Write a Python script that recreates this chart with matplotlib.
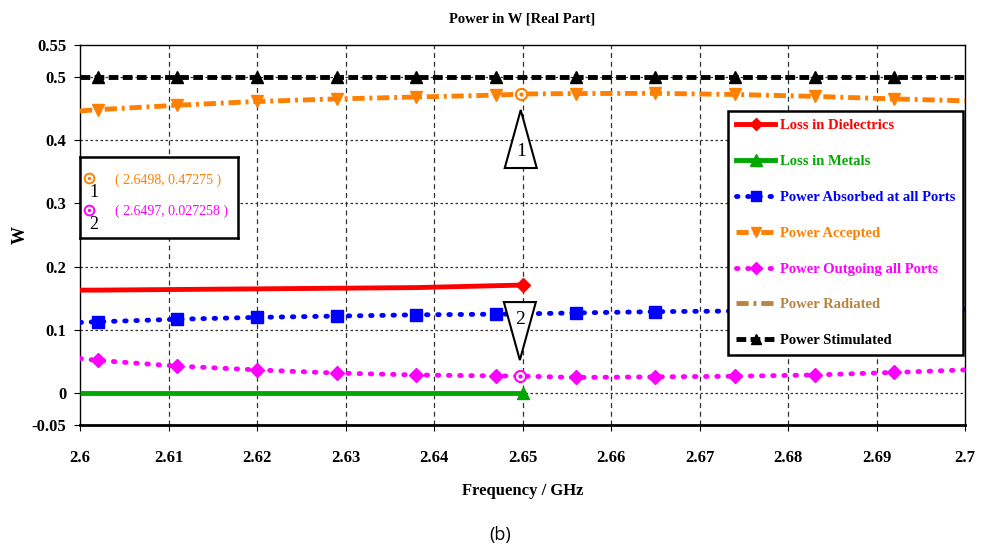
import matplotlib
matplotlib.use("Agg")
import matplotlib.pyplot as plt
import matplotlib.transforms as mtransforms
from matplotlib.patches import Polygon
from matplotlib.lines import Line2D

# Frequency samples (GHz); marker positions are every 0.009 GHz from 2.602
freq = [2.600, 2.602, 2.611, 2.620, 2.629, 2.638, 2.647, 2.650,
        2.656, 2.665, 2.674, 2.683, 2.692, 2.700]
marker_idx = [1, 2, 3, 4, 5, 6, 8, 9, 10, 11, 12]

# Series values (W)
p_stimulated = [0.5] * 14
p_accepted = [0.446, 0.448, 0.455, 0.461, 0.465, 0.468, 0.471, 0.47275,
              0.4735, 0.4738, 0.472, 0.469, 0.465, 0.462]
p_absorbed = [0.112, 0.113, 0.117, 0.120, 0.122, 0.124, 0.125, 0.1255,
              0.127, 0.129, 0.130, 0.131, 0.132, 0.133]
p_outgoing = [0.055, 0.052, 0.043, 0.037, 0.032, 0.029, 0.0275, 0.027258,
              0.025, 0.026, 0.027, 0.029, 0.033, 0.037]
# losses only computed up to 2.65 GHz
loss_diel = [0.163, 0.163, 0.164, 0.165, 0.166, 0.167, 0.170, 0.171]
loss_metal = [0.0, 0.0, 0.0, 0.0, 0.0, 0.0, 0.0, 0.0]

# Marker readouts
mk_labels = ["1", "2"]
mk_x = [2.6498, 2.6497]
mk_y = [0.47275, 0.027258]

xticks = [2.6, 2.61, 2.62, 2.63, 2.64, 2.65, 2.66, 2.67, 2.68, 2.69, 2.7]
yticks = [-0.05, 0, 0.1, 0.2, 0.3, 0.4, 0.5, 0.55]

RED = "#ff0000"
GREEN = "#00a800"
BLUE = "#0000ff"
ORANGE = "#ff7f00"
MAGENTA = "#ff00ff"
BROWN = "#b8843f"
BLACK = "#000000"

DOTTED = (0, (0.3, 2.0))
DASHDOT = (0, (2.5, 1.0, 0.6, 1.0))
DASHED = (0, (2.0, 0.9))

plt.rcParams["font.family"] = ["Liberation Serif", "DejaVu Serif"]
plt.rcParams["font.weight"] = "bold"
plt.rcParams["axes.titleweight"] = "bold"
plt.rcParams["axes.labelweight"] = "bold"

fig = plt.figure(figsize=(9.83, 5.5), dpi=100)
ax = fig.add_axes([0.0814, 0.2273, 0.9003, 0.6907])

lw = 3.5
n_loss = len(loss_diel)

ax.plot(freq[:n_loss], loss_diel, color=RED, lw=lw, marker="D", ms=7,
        markevery=[n_loss - 1], solid_capstyle="butt", zorder=4)
ax.plot(freq[:n_loss], loss_metal, color=GREEN, lw=lw, marker="^", ms=8,
        markevery=[n_loss - 1], solid_capstyle="butt", zorder=4)
ax.plot(freq, p_absorbed, color=BLUE, lw=lw, ls=DOTTED,
        dash_capstyle="round", marker="s", ms=8, markevery=marker_idx, zorder=4)
ax.plot(freq, p_accepted, color=ORANGE, lw=lw, ls=DASHDOT,
        marker="v", ms=8, markevery=marker_idx, zorder=4)
ax.plot(freq, p_outgoing, color=MAGENTA, lw=lw, ls=DOTTED,
        dash_capstyle="round", marker="D", ms=7, markevery=marker_idx, zorder=4)
ax.plot(freq, p_stimulated, color=BLACK, lw=lw, ls=DASHED,
        marker="^", ms=8, markevery=marker_idx, zorder=4)

# marker points with callout triangles
mk_colors = [ORANGE, MAGENTA]
tri_dir = [-1, 1]  # 1 below the point, 2 above the point
for lab, x, y, c, d in zip(mk_labels, mk_x, mk_y, mk_colors, tri_dir):
    ax.plot([x], [y], marker="o", ms=8, mfc="white", mec=c, mew=1.5, zorder=6)
    ax.plot([x], [y], marker="o", ms=2, color=c, zorder=7)
    tr = fig.dpi_scale_trans + mtransforms.ScaledTranslation(x, y, ax.transData)
    apex = 0.16 * d
    base = 0.74 * d
    tri = Polygon([(0, apex), (-0.16, base), (0.16, base)], closed=True,
                  fc="white", ec="black", lw=1.5, transform=tr, zorder=8)
    ax.add_patch(tri)
    ax.text(0, 0.57 * d, lab, transform=tr, ha="center", va="center",
            fontsize=14, fontweight="normal", zorder=9)

ax.set_xlim(2.6, 2.7)
ax.set_ylim(-0.05, 0.55)
ax.set_xticks(xticks)
ax.set_xticklabels([f"{v:g}" for v in xticks], fontweight="bold")
ax.set_yticks(yticks)
ax.set_yticklabels([f"{v:g}" for v in yticks], fontweight="bold")
ax.tick_params(labelsize=12, length=4, direction="out", pad=6)
ax.tick_params(axis="x", pad=14)

for v in xticks[1:-1]:
    ax.axvline(v, color="#333333", lw=0.9, ls=(0, (4, 3)), zorder=1)
for v in yticks[1:-1]:
    ax.axhline(v, color="#333333", lw=0.9, ls=(0, (2, 2)), zorder=1)

for s in ax.spines.values():
    s.set_linewidth(1.0)
ax.spines["bottom"].set_linewidth(2.0)

ax.set_title("Power in W [Real Part]", fontsize=10.5, pad=16, fontweight="bold")
ax.set_xlabel("Frequency / GHz", fontsize=12, labelpad=12, fontweight="bold")
ax.set_ylabel("W", fontsize=13, labelpad=2, fontweight="bold")

# marker readout box
box_ax = ax.inset_axes([0.0, 0.492, 0.1785, 0.213])
box_ax.set_xlim(0, 1)
box_ax.set_ylim(0, 1)
box_ax.set_xticks([])
box_ax.set_yticks([])
for s in box_ax.spines.values():
    s.set_linewidth(1.8)
rows_y = [0.66, 0.27]
for lab, x, y, c, ry in zip(mk_labels, mk_x, mk_y, mk_colors, rows_y):
    box_ax.plot([0.06], [ry + 0.08], marker="o", ms=7, mfc="white", mec=c, mew=1.4)
    box_ax.plot([0.06], [ry + 0.08], marker="o", ms=1.5, color=c)
    box_ax.text(0.09, ry - 0.1, lab, fontsize=13, fontweight="normal",
                ha="center", va="center")
    box_ax.text(0.22, ry + 0.06, f"( {x}, {y} )", color=c, fontsize=10,
                fontweight="normal", ha="left", va="center")

# legend
handles = [
    Line2D([], [], color=RED, lw=lw, marker="D", ms=6),
    Line2D([], [], color=GREEN, lw=lw, marker="^", ms=8),
    Line2D([], [], color=BLUE, lw=lw, ls=DOTTED, dash_capstyle="round",
           marker="s", ms=7),
    Line2D([], [], color=ORANGE, lw=lw, ls=DASHDOT, marker="v", ms=7),
    Line2D([], [], color=MAGENTA, lw=lw, ls=DOTTED, dash_capstyle="round",
           marker="D", ms=6),
    Line2D([], [], color=BROWN, lw=lw, ls=DASHDOT),
    Line2D([], [], color=BLACK, lw=lw, ls=DASHED, marker="^", ms=7),
]
labels = ["Loss in Dielectrics", "Loss in Metals", "Power Absorbed at all Ports",
          "Power Accepted", "Power Outgoing all Ports", "Power Radiated",
          "Power Stimulated"]
leg = ax.legend(handles, labels, loc="upper right", bbox_to_anchor=(0.998, 0.826),
                prop={"size": 10.5, "weight": "bold"}, frameon=True,
                fancybox=False, framealpha=1, edgecolor="black",
                handlelength=2.7, handletextpad=0.3, labelspacing=1.55,
                borderpad=0.55, borderaxespad=0)
leg.get_frame().set_linewidth(1.8)
leg.set_zorder(10)
for t, h in zip(leg.get_texts(), handles):
    t.set_color(h.get_color())

fig.text(0.509, 0.028, "(b)", fontsize=13, fontweight="normal",
         family=["Open Sans", "DejaVu Sans"], ha="center", va="center")

fig.savefig("out.png", dpi=100)
